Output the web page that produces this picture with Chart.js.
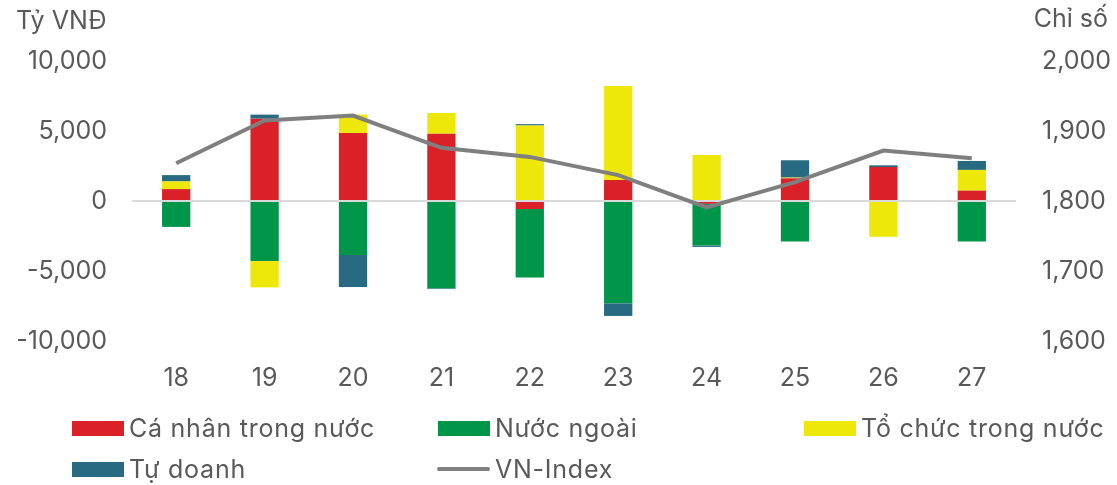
<!DOCTYPE html>
<html>
<head>
<meta charset="utf-8">
<script src="https://cdn.jsdelivr.net/npm/chart.js@4.4.1/dist/chart.umd.min.js"></script>
<style>
  html, body { margin: 0; padding: 0; background: #ffffff; }
  #wrap { position: relative; width: 1117px; height: 485px; font-family: Inter, "Noto Sans", sans-serif; }
  #c { position: absolute; left: 0; top: 0; }
  .lg { position: absolute; display: flex; align-items: center; font-size: 25px; color: #595959; white-space: nowrap; letter-spacing: 0.75px; }
  .lg .box { width: 52px; height: 15px; margin-right: 5px; }
  .lg .ln { width: 53px; height: 4px; margin-right: 5px; border-radius: 2px; }
</style>
</head>
<body>
<div id="wrap">
  <canvas id="c" width="1117" height="485"></canvas>
  <div id="legend"></div>
</div>
<script>
const categories = ["18", "19", "20", "21", "22", "23", "24", "25", "26", "27"];
const caNhan   = [850, 5880, 4860, 4810, -570, 1500, -200, 1620, 2430, 740];
const nuocNgoai = [-1850, -4290, -3860, -6240, -4900, -7310, -2980, -2900, 0, -2900];
const toChuc   = [550, -1880, 1310, 1480, 5390, 6710, 3290, 50, -2550, 1480];
const tuDoanh  = [450, 290, -2290, -50, 100, -900, -100, 1240, 120, 640];
const vnIndex  = [1854, 1915, 1922, 1876, 1863, 1837, 1791, 1827, 1872, 1861];
const leftTicks = [-10000, -5000, 0, 5000, 10000];
const rightTicks = [1600, 1700, 1800, 1900, 2000];

const TEXT = "#595959";
const FONT = "Inter, 'Noto Sans', sans-serif";

const titlePlugin = {
  id: "axisTitles",
  afterDraw(chart) {
    const ctx = chart.ctx;
    ctx.save();
    ctx.fillStyle = TEXT;
    ctx.font = "25px " + FONT;
    ctx.textBaseline = "middle";
    ctx.textAlign = "left";
    ctx.fillText("Tỷ VNĐ", 16, 21);
    ctx.textAlign = "right";
    ctx.fillText("Chỉ số", 1108, 19);
    ctx.restore();
  }
};

const barPct = 0.32;
const chart = new Chart(document.getElementById("c"), {
  type: "bar",
  data: {
    labels: categories,
    datasets: [
      { label: "Cá nhân trong nước", data: caNhan, backgroundColor: "#DA2128", yAxisID: "y", stack: "s", order: 2 },
      { label: "Nước ngoài", data: nuocNgoai, backgroundColor: "#00964A", yAxisID: "y", stack: "s", order: 2 },
      { label: "Tổ chức trong nước", data: toChuc, backgroundColor: "#EDE70A", yAxisID: "y", stack: "s", order: 2 },
      { label: "Tự doanh", data: tuDoanh, backgroundColor: "#276A82", yAxisID: "y", stack: "s", order: 2 },
      { type: "line", label: "VN-Index", data: vnIndex, borderColor: "#7F7F7F", borderWidth: 4, pointRadius: 0, tension: 0, yAxisID: "y1", order: 1, fill: false }
    ]
  },
  options: {
    responsive: false,
    animation: false,
    layout: { padding: { top: 61, bottom: 94, left: 0, right: 0 } },
    datasets: { bar: { barPercentage: barPct, categoryPercentage: 1.0 } },
    plugins: { legend: { display: false }, tooltip: { enabled: false } },
    scales: {
      x: {
        stacked: true,
        grid: { display: false, drawTicks: false },
        border: { display: false },
        ticks: { color: TEXT, font: { family: FONT, size: 25 }, padding: 22 },
        afterFit(s) { s.height = 50; }
      },
      y: {
        stacked: true,
        position: "left",
        min: -10000, max: 10000,
        afterBuildTicks(s) { s.ticks = leftTicks.map(v => ({ value: v })); },
        ticks: { color: TEXT, font: { family: FONT, size: 25 }, padding: 25,
                 callback: v => v.toLocaleString("en-US") },
        grid: {
          drawTicks: false,
          color: ctx => (ctx.tick && ctx.tick.value === 0) ? "#D9D9D9" : "rgba(0,0,0,0)",
          lineWidth: 2
        },
        border: { display: false },
        afterFit(s) { s.width = 132; }
      },
      y1: {
        position: "right",
        min: 1600, max: 2000,
        afterBuildTicks(s) { s.ticks = rightTicks.map(v => ({ value: v })); },
        ticks: { color: TEXT, font: { family: FONT, size: 25 }, padding: 26,
                 callback: v => v.toLocaleString("en-US") },
        grid: { display: false, drawTicks: false },
        border: { display: false },
        afterFit(s) { s.width = 101; }
      }
    }
  },
  plugins: [titlePlugin]
});

// HTML legend built from the chart datasets
const legendPos = [
  { left: 72, top: 428 }, { left: 438, top: 428 }, { left: 804, top: 428 },
  { left: 72, top: 469 }, { left: 437, top: 469 }
];
const lg = document.getElementById("legend");
chart.data.datasets.forEach((ds, i) => {
  const item = document.createElement("div");
  item.className = "lg";
  item.style.left = legendPos[i].left + "px";
  item.style.top = (legendPos[i].top - 16) + "px";
  item.style.height = "32px";
  const sw = document.createElement("span");
  if (ds.type === "line") { sw.className = "ln"; sw.style.background = ds.borderColor; }
  else { sw.className = "box"; sw.style.background = ds.backgroundColor; }
  const tx = document.createElement("span");
  tx.textContent = ds.label;
  item.appendChild(sw); item.appendChild(tx);
  lg.appendChild(item);
});
</script>
</body>
</html>
